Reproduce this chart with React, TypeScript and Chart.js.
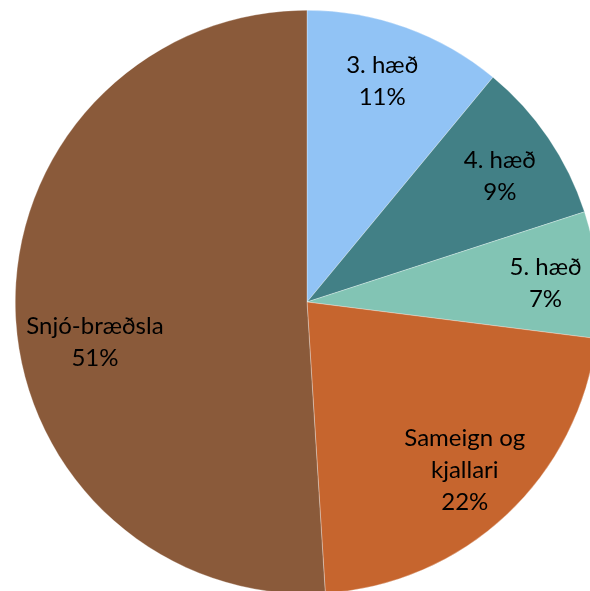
import React, { useEffect, useRef } from "react";
import { Chart, registerables } from "chart.js";

Chart.register(...registerables);

const categories = ["3. hæð", "4. hæð", "5. hæð", "Sameign og kjallari", "Snjó-bræðsla"];
const values = [11, 9, 7, 22, 51];
const colors = ["#91C3F5", "#428086", "#82C4B4", "#C6652E", "#8A5A3A"];

// label placement styling (radius factor and angle nudge in degrees)
const labelRadius = [0.8, 0.79, 0.82, 0.79, 0.74];
const labelAngleShift = [-1, 1, 1, 0, -9];

const labelPlugin = {
  id: "sliceLabels",
  afterDatasetsDraw(chart: any) {
    const ctx = chart.ctx;
    const meta = chart.getDatasetMeta(0);
    const data = chart.data.datasets[0].data as number[];
    const total = data.reduce((a, b) => a + b, 0);
    const fontSize = 24;
    const lineH = 32;
    ctx.save();
    ctx.font = `${fontSize}px Lato, "Noto Sans", sans-serif`;
    ctx.fillStyle = "#000";
    ctx.textAlign = "center";
    ctx.textBaseline = "middle";
    meta.data.forEach((arc: any, i: number) => {
      const { x, y, startAngle, endAngle, outerRadius } = arc.getProps(
        ["x", "y", "startAngle", "endAngle", "outerRadius"],
        true
      );
      const mid = (startAngle + endAngle) / 2 + (labelAngleShift[i] * Math.PI) / 180;
      const r = outerRadius * labelRadius[i];
      const lx = x + Math.cos(mid) * r;
      const ly = y + Math.sin(mid) * r;
      // word wrap
      const words = String(chart.data.labels[i]).split(" ");
      const lines: string[] = [];
      let cur = "";
      words.forEach((w) => {
        const test = cur ? cur + " " + w : w;
        if (cur && ctx.measureText(test).width > 150) {
          lines.push(cur);
          cur = w;
        } else cur = test;
      });
      if (cur) lines.push(cur);
      lines.push(Math.round((data[i] / total) * 100) + "%");
      const startY = ly - ((lines.length - 1) * lineH) / 2;
      lines.forEach((ln, k) => ctx.fillText(ln, lx, startY + k * lineH));
    });
    ctx.restore();
  },
};

export default function App() {
  const ref = useRef<HTMLCanvasElement | null>(null);
  useEffect(() => {
    if (!ref.current) return;
    const chart = new Chart(ref.current, {
      type: "pie",
      data: {
        labels: categories,
        datasets: [
          {
            data: values,
            backgroundColor: colors,
            borderColor: "rgba(255,255,255,0.6)",
            borderWidth: 0.5,
          },
        ],
      },
      options: {
        animation: false,
        responsive: true,
        maintainAspectRatio: false,
        layout: { padding: { top: 10, bottom: 10, left: 0, right: 0 } },
        plugins: {
          legend: { display: false },
          tooltip: { enabled: false },
        },
      },
      plugins: [labelPlugin],
    });
    return () => chart.destroy();
  }, []);
  return (
    <div
      style={{
        position: "fixed",
        left: 0,
        top: 0,
        width: 590,
        height: 591,
        overflow: "hidden",
        background: "#fff",
      }}
    >
      <div style={{ position: "absolute", left: 0, top: 0, width: 614, height: 604 }}>
        <canvas ref={ref} />
      </div>
    </div>
  );
}
